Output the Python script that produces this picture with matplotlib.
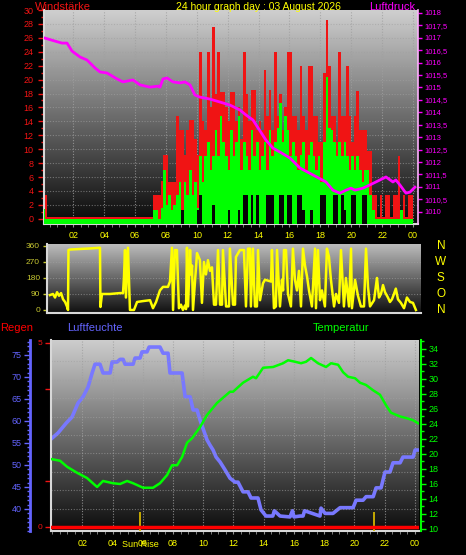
import numpy as np
import matplotlib
matplotlib.use('Agg')
import matplotlib.pyplot as plt
from matplotlib.ticker import FuncFormatter, MultipleLocator, FixedLocator
import matplotlib.transforms as mtransforms

plt.rcParams['font.family'] = ['Liberation Sans', 'DejaVu Sans']

W, H = 466, 555

# ------------------------------------------------------------------ data
tick_hours = [2, 4, 6, 8, 10, 12, 14, 16, 18, 20, 22, 24]
tick_labels = ['02', '04', '06', '08', '10', '12', '14', '16', '18', '20', '22', '00']

# wind, 10-minute bars (km/h), one row per hour
wind_gust = [
    5.3, 3.4, 0.3, 0.3, 0.3, 0.3,
    0.3, 0.3, 0.3, 0.3, 0.3, 0.3,
    0.3, 0.3, 0.3, 0.3, 0.3, 0.3,
    0.3, 0.3, 0.3, 0.3, 0.3, 0.3,
    0.3, 0.3, 0.3, 0.3, 0.3, 0.3,
    0.3, 0.3, 0.3, 0.3, 0.3, 0.3,
    0.3, 0.3, 0.3, 0.3, 0.3, 0.3,
    0.3, 3.4, 3.4, 3.4, 5.5, 9.2,
    9.2, 5.3, 5.3, 5.3, 14.7, 12.8,
    12.8, 9.2, 12.8, 14.2, 14.2, 11.4,
    9.2, 24.0, 14.0, 12.8, 24.0, 16.0,
    27.6, 18.0, 24.0, 18.2, 18.2, 16.0,
    14.0, 18.2, 18.2, 14.0, 16.0, 11.4,
    24.0, 18.0, 14.0, 18.5, 18.5, 12.8,
    14.0, 12.8, 21.4, 14.7, 18.5, 12.8,
    24.0, 14.7, 18.0, 12.8, 16.0, 24.0,
    24.0, 14.7, 14.7, 12.8, 22.0, 14.7,
    12.8, 22.0, 22.0, 14.7, 14.7, 11.0,
    11.0, 21.0, 28.6, 22.0, 14.7, 14.7,
    11.0, 24.0, 14.7, 14.7, 22.0, 14.7,
    11.0, 14.7, 18.4, 12.8, 12.8, 12.8,
    9.7, 9.7, 3.4, 3.4, 0.3, 3.4,
    0.3, 3.4, 3.4, 0.3, 3.4, 3.4,
    9.0, 0.3, 3.4, 0.3, 3.4, 3.4,
]
wind_avg = [
    1.4, 0, 0, 0, 0, 0,
    0, 0, 0, 0, 0, 0,
    0, 0, 0, 0, 0, 0,
    0, 0, 0, 0, 0, 0,
    0, 0, 0, 0, 0, 0,
    0, 0, 0, 0, 0, 0,
    0, 0, 0, 0, 0, 0,
    0, 1.3, 1.3, 0, 1.5, 7.0,
    2.0, 3.4, 1.3, 2.0, 3.4, 5.3,
    1.3, 5.3, 3.4, 7.0, 3.4, 5.3,
    1.5, 9.0, 5.3, 9.0, 11.0, 7.0,
    9.0, 12.8, 9.0, 14.7, 11.0, 9.0,
    7.0, 12.8, 9.0, 11.0, 14.7, 7.0,
    11.0, 9.0, 7.0, 12.8, 9.0, 11.0,
    7.0, 9.0, 11.0, 7.0, 12.8, 9.0,
    11.0, 13.0, 16.7, 11.0, 14.7, 12.8,
    9.0, 11.0, 9.0, 7.0, 9.2, 11.0,
    7.0, 9.2, 11.0, 9.0, 7.0, 9.0,
    5.3, 11.0, 20.4, 13.0, 12.8, 11.0,
    9.0, 11.0, 9.0, 11.0, 9.0, 7.0,
    9.0, 7.0, 9.0, 7.0, 5.3, 7.0,
    7.0, 3.4, 1.3, 0, 0, 0,
    0, 0, 0, 0, 0, 0,
    0, 1.3, 0, 0, 0, 0,
]
wind_min = [
    0, 0, 0, 0, 0, 0,
    0, 0, 0, 0, 0, 0,
    0, 0, 0, 0, 0, 0,
    0, 0, 0, 0, 0, 0,
    0, 0, 0, 0, 0, 0,
    0, 0, 0, 0, 0, 0,
    0, 0, 0, 0, 0, 0,
    0, 0, 0, 0, 0, 0,
    0, 0, 0, 0, 0, 0,
    1.3, 0, 0, 0, 0, 0,
    1.3, 3.4, 0, 0, 0, 0,
    2.0, 0, 0, 0, 0, 0,
    1.3, 0, 0, 0, 1.3, 0,
    3.4, 3.4, 0, 3.4, 0, 3.4,
    0, 0, 0, 3.4, 3.4, 3.4,
    0, 0, 3.4, 3.4, 0, 3.4,
    3.4, 0, 0, 3.4, 3.4, 1.3,
    0, 0, 1.3, 0, 0, 0,
    3.4, 3.4, 0, 0, 0, 3.4,
    3.4, 0, 3.4, 1.3, 0, 0,
    3.4, 3.4, 0, 0, 3.4, 3.4,
    0, 0, 0, 0, 0, 0,
    0, 0, 0, 0, 0, 0,
    0, 0, 0, 0, 0, 0,
]

# pressure (hPa)
pres_hours = [0.19, 0.84, 1.29, 1.62, 1.94, 2.46, 2.91, 3.43, 3.75, 4.2, 4.85, 5.24,
              5.88, 6.34, 6.98, 7.5, 7.63, 7.82, 8.08, 8.47, 8.92, 9.24, 9.57, 9.89,
              10.21, 10.86, 11.51, 12.15, 12.8, 13.19, 13.64, 14.48, 14.93, 15.39,
              16.03, 16.68, 17.52, 18.36, 18.81, 19.26, 19.65, 19.98, 20.23, 20.75,
              21.2, 21.85, 22.24, 22.69, 22.88, 23.14, 23.53, 23.79, 24.11]
pres_vals = [1016.98, 1016.86, 1016.78, 1016.78, 1016.46, 1016.22, 1016.10, 1015.78,
             1015.62, 1015.58, 1015.34, 1015.22, 1015.30, 1015.10, 1015.01, 1015.05,
             1015.01, 1015.34, 1015.38, 1015.22, 1015.18, 1015.22, 1015.10, 1014.69,
             1014.61, 1014.53, 1014.41, 1014.29, 1014.09, 1013.89, 1013.69, 1012.88,
             1012.56, 1012.40, 1012.16, 1011.76, 1011.48, 1011.20, 1010.87, 1010.75,
             1010.87, 1010.95, 1010.87, 1010.95, 1011.08, 1011.28, 1011.40, 1011.20,
             1011.28, 1011.08, 1010.75, 1010.79, 1010.99]

# wind direction (degrees)
dir_hours = [0.49, 0.69, 0.82, 0.95, 1.08, 1.21, 1.34, 1.47, 1.59, 1.66, 1.69, 1.79,
             2.44, 3.08, 3.73, 3.76, 3.86, 4.38, 5.02, 5.22, 5.28, 5.35, 5.41, 5.54,
             5.67, 5.93, 6.13, 6.51, 6.97, 7.16, 7.36, 7.61, 7.81, 8.13, 8.26, 8.39,
             8.46, 8.58, 8.71, 8.84, 8.97, 9.10, 9.23, 9.30, 9.36, 9.43, 9.56, 9.62,
             9.69, 9.75, 10.01, 10.20, 10.33, 10.46, 10.59, 10.72, 10.85, 10.98,
             11.11, 11.24, 11.37, 11.50, 11.63, 11.69, 11.89, 12.08, 12.14, 12.34,
             12.47, 12.53, 12.79, 13.05, 13.18, 13.31, 13.44, 13.50, 13.63, 13.76,
             13.89, 13.96, 14.09, 14.28, 14.41, 14.60, 14.80, 14.86, 14.99, 15.12,
             15.19, 15.38, 15.51, 15.58, 15.64, 15.77, 15.90, 16.09, 16.22, 16.35,
             16.48, 16.61, 16.74, 16.87, 17.00, 17.13, 17.26, 17.45, 17.65, 17.71,
             17.84, 17.97, 18.10, 18.29, 18.42, 18.55, 18.68, 18.88, 19.01, 19.20,
             19.33, 19.52, 19.65, 19.85, 19.98, 20.04, 20.24, 20.43, 20.62, 20.82,
             20.95, 21.08, 21.21, 21.47, 21.66, 21.79, 21.92, 22.05, 22.18, 22.37,
             22.50, 22.63, 22.76, 22.88, 23.02, 23.21, 23.41, 23.60, 23.80, 23.99,
             24.18]
dir_deg = [84, 90, 70, 100, 80, 95, 60, 45, 20, 0, 337, 340,
           343, 346, 350, 17, 90, 90, 95, 95, 180, 337, 70, 350,
           0, 0, 45, 50, 55, 10, 45, 110, 130, 130, 160, 350,
           0, 337, 337, 10, 30, 0, 25, 5, 350, 20, 337, 200,
           250, 0, 320, 280, 40, 270, 200, 280, 220, 240,
           30, 30, 337, 30, 30, 337, 20, 20, 345, 30,
           30, 298, 337, 337, 20, 345, 345, 20, 345, 20,
           20, 337, 55, 150, 170, 165, 160, 337, 10, 20,
           337, 20, 170, 110, 337, 337, 90, 20, 345, 170,
           110, 220, 20, 345, 250, 190, 110, 20, 345, 10,
           337, 55, 110, 20, 345, 300, 170, 20, 90, 40,
           337, 20, 180, 20, 345, 10, 170, 80, 20, 20,
           345, 130, 20, 55, 180, 70, 90, 140, 100, 70,
           45, 60, 90, 120, 60, 40, 10, 70, 45, 40,
           0]

# humidity (%)
hum_hours = [0.0, 0.40, 0.93, 1.32, 1.72, 2.05, 2.38, 2.65, 2.84, 3.17, 3.37, 3.84,
             3.97, 4.30, 4.50, 4.70, 4.83, 5.36, 5.49, 5.82, 5.95, 6.28, 6.42, 7.14,
             7.34, 7.67, 7.80, 8.60, 8.80, 9.13, 9.33, 9.59, 9.79, 10.25, 10.45,
             10.65, 10.85, 11.11, 11.44, 11.77, 12.10, 12.30, 12.63, 12.96, 13.16,
             13.62, 13.82, 14.15, 14.60, 14.70, 15.08, 15.74, 15.90, 16.00, 16.40,
             16.60, 16.70, 17.72, 17.79, 18.06, 18.58, 19.05, 19.91, 20.11, 20.57,
             20.77, 21.24, 21.43, 21.76, 22.02, 22.35, 22.55, 23.02, 23.21, 23.88,
             24.01, 24.21]
hum_vals = [56.1, 57.3, 59.5, 60.9, 64.1, 65.5, 67.7, 70.9, 72.9, 72.9, 70.9, 70.9,
            73.4, 73.4, 74.0, 74.0, 72.9, 72.9, 74.3, 74.3, 75.7, 75.7, 76.8, 76.8,
            75.4, 75.4, 70.9, 70.9, 65.5, 65.5, 62.5, 62.5, 60.2, 55.7, 54.5,
            53.4, 51.8, 50.7, 48.9, 47.0, 46.1, 46.1, 43.9, 43.9, 42.5,
            42.5, 39.8, 38.4, 38.4, 39.6, 38.4, 38.2, 39.6, 38.2, 38.4,
            38.4, 39.6, 38.4, 40.2, 39.0, 39.0, 40.3, 40.3, 42.0, 42.0,
            42.8, 42.8, 44.8, 44.8, 48.4, 48.4, 50.5, 50.5, 51.8, 51.8,
            53.4, 53.4]

# temperature (deg C)
temp_hours = [0.0, 0.53, 0.99, 1.65, 2.31, 2.98, 3.37, 4.03, 4.50, 4.96, 5.36, 6.02,
              6.68, 7.14, 7.61, 7.94, 8.27, 8.60, 8.93, 9.26, 9.79, 10.25, 10.91,
              11.77, 11.97, 12.63, 13.29, 13.49, 13.96, 14.62, 15.28, 15.61, 16.07,
              16.47, 16.80, 17.13, 17.59, 18.12, 18.45, 18.92, 19.25, 19.58, 20.04,
              20.37, 20.77, 21.23, 21.69, 22.09, 22.42, 23.02, 23.41, 23.88, 24.21]
temp_vals = [19.3, 19.1, 18.3, 17.5, 16.8, 15.6, 16.4, 16.1, 16.0, 16.4, 16.1, 15.5,
             15.5, 16.1, 17.2, 18.5, 18.5, 19.6, 21.5, 22.1, 23.6, 25.2, 26.8,
             28.3, 28.3, 29.5, 30.3, 30.1, 31.5, 31.6, 32.1, 32.5, 32.3,
             32.1, 32.3, 32.8, 32.1, 31.6, 32.1, 31.9, 30.9, 30.3, 30.1,
             29.5, 29.2, 28.5, 27.9, 26.5, 25.5, 25.0, 24.8, 24.5, 24.1]

# rain (mm)
rain_hours = [0, 6, 12, 18, 24.27]
rain_vals = [0, 0, 0, 0, 0]

# sunrise / sunset
sun_hours = [5.82, 21.3]

compass_labels = ['N', 'W', 'S', 'O', 'N']
compass_deg = [360, 270, 180, 90, 0]

# ------------------------------------------------------------------ style
RED = '#f01414'
GREEN = '#00ff00'
MAG = '#ff00ff'
YEL = '#ffff00'
BLUE = '#7878ff'
BLUE_T = '#6464ff'
OLIVE = '#c8c832'
GRID = '#a0a0a0'
SPINE = '#d8d8d8'


def frac(x0, y0, x1, y1):
    return [x0 / W, 1 - y1 / H, (x1 - x0) / W, (y1 - y0) / H]


def background(ax, xlim, ylim, top, bottom):
    grad = np.linspace(0, 1, 256).reshape(-1, 1)
    cmap = matplotlib.colors.LinearSegmentedColormap.from_list('bg', [bottom, top])
    ax.imshow(grad, aspect='auto', cmap=cmap, origin='lower',
              extent=[xlim[0], xlim[1], ylim[0], ylim[1]], zorder=0,
              interpolation='bilinear')
    ax.set_xlim(xlim)
    ax.set_ylim(ylim)


def vgrid(ax, hrs):
    for h in hrs:
        ax.axvline(h, color=GRID, lw=0.8, ls=(0, (1, 1.5)), zorder=1, alpha=0.8)


def hgrid(ax, vals):
    for v in vals:
        ax.axhline(v, color=GRID, lw=0.8, ls=(0, (1, 1.5)), zorder=1, alpha=0.6)


fig = plt.figure(figsize=(W / 100, H / 100), dpi=100, facecolor='black')

# ================================================================ top panel
ax1 = fig.add_axes(frac(44, 10, 418, 224))
x1lim = (0.13, 24.31)
y1lim = (-0.75, 30)
background(ax1, x1lim, y1lim, '#cfcfcf', '#080808')
vgrid(ax1, tick_hours)
hgrid(ax1, list(range(2, 30, 2)))

bar_hours = np.arange(len(wind_gust)) / 6.0
base = y1lim[0]
gust = np.array(wind_gust)
avg = np.array(wind_avg)
wmin = np.array(wind_min)
ax1.bar(bar_hours, gust - base, bottom=base, width=1 / 6, align='edge',
        color=RED, linewidth=0, zorder=2)
ax1.bar(bar_hours, avg - base, bottom=base, width=1 / 6, align='edge',
        color=GREEN, linewidth=0, zorder=3)
mask = wmin > 0
ax1.bar(bar_hours[mask], wmin[mask] - base, bottom=base, width=1 / 6, align='edge',
        color='#050505', linewidth=0, zorder=4)

ax1.set_yticks(list(range(0, 31, 2)))
ax1.yaxis.set_minor_locator(MultipleLocator(1))
ax1.tick_params(axis='y', which='both', colors=RED, labelsize=6.5, direction='out')
ax1.tick_params(axis='y', which='major', length=4, width=1)
ax1.tick_params(axis='y', which='minor', length=2.5, width=1)
ax1.set_xticks(tick_hours)
ax1.xaxis.set_minor_locator(MultipleLocator(0.5))
ax1.tick_params(axis='x', which='both', colors='#909090', labelbottom=False,
                length=2.5, direction='out')
for s in ['top']:
    ax1.spines[s].set_visible(False)
ax1.spines['left'].set_color(SPINE)
ax1.spines['left'].set_linewidth(1.5)
ax1.spines['bottom'].set_color(SPINE)
ax1.spines['bottom'].set_linewidth(1.5)
ax1.spines['right'].set_visible(False)

ax1p = ax1.twinx()
ax1p.plot(pres_hours, pres_vals, color=MAG, lw=2, zorder=5)
ax1p.set_ylim(1009.51, 1018.11)
ax1p.set_xlim(x1lim)
ax1p.yaxis.set_major_locator(MultipleLocator(0.5))
ax1p.yaxis.set_major_formatter(FuncFormatter(
    lambda v, p: (f'{v:.1f}'.replace('.', ',') if abs(v % 1) > 1e-6 else f'{v:.0f}')))
ax1p.tick_params(axis='y', colors=MAG, labelsize=5.5, length=3, width=1, pad=2)
for s in ['top', 'left', 'bottom']:
    ax1p.spines[s].set_visible(False)
ax1p.spines['right'].set_color('#ffb0ff')
ax1p.spines['right'].set_linestyle((0, (1, 1)))
ax1p.spines['right'].set_linewidth(1.2)

# titles
fig.text(35 / W, 1 - 7 / H, 'Windstärke', color=RED, fontsize=8, ha='left', va='center')
fig.text(258 / W, 1 - 7 / H, '24 hour graph day : 03 August 2026', color=YEL,
         fontsize=7.5, ha='center', va='center')
fig.text(415 / W, 1 - 7 / H, 'Luftdruck', color=MAG, fontsize=8, ha='right', va='center')

# ================================================================ middle panel
ax2 = fig.add_axes(frac(47, 244, 421, 313))
x2lim = (0.3, 24.51)
y2lim = (-17, 371)
background(ax2, x2lim, y2lim, '#bcbcbc', '#101010')
hgrid(ax2, [90, 180, 270])
ax2.plot(dir_hours, dir_deg, color=YEL, lw=1.8, zorder=3)
ax2.set_yticks([0, 90, 180, 270, 360])
ax2.tick_params(axis='y', colors=OLIVE, labelsize=6, length=3, width=1, pad=2)
ax2.set_xticks(tick_hours)
ax2.set_xticklabels(tick_labels)
ax2.tick_params(axis='x', top=True, labeltop=True, bottom=False, labelbottom=False,
                colors=YEL, labelsize=6.5, length=0, pad=3)
for s in ['top', 'right']:
    ax2.spines[s].set_visible(False)
ax2.spines['left'].set_color(SPINE)
ax2.spines['left'].set_linewidth(1.5)
ax2.spines['bottom'].set_color(SPINE)
ax2.spines['bottom'].set_linewidth(1.5)
trans2 = mtransforms.blended_transform_factory(ax2.transAxes, ax2.transData)
for lab, d in zip(compass_labels, compass_deg):
    ax2.text(1.053, d, lab, color=YEL, fontsize=8.5, ha='center', va='center',
             transform=trans2, clip_on=False)

# ================================================================ bottom panel
ax3 = fig.add_axes(frac(51, 340, 419, 531))
x3lim = (-0.07, 24.27)
y3lim = (35.0, 78.4)
background(ax3, x3lim, y3lim, '#cdcdcd', '#0c0c0c')
vgrid(ax3, tick_hours)

ax3r = ax3.twinx()
ax3r.set_ylim(-0.11, 5.08)
ax3r.set_xlim(x3lim)
hgrid(ax3r, [0.5, 1.0, 1.5, 2.0, 2.5, 3.0, 3.5, 4.0, 4.5])

ax3t = ax3.twinx()
ax3t.set_ylim(9.73, 35.2)
ax3t.set_xlim(x3lim)
ax3t.plot(temp_hours, temp_vals, color=GREEN, lw=1.8, zorder=3)

ax3.plot(hum_hours, hum_vals, color=BLUE, lw=2.6, zorder=4)
ax3r.plot(rain_hours, rain_vals, color='#ff0000', lw=2.5, zorder=6)

# humidity axis
ax3.spines['left'].set_position(('outward', 21 * 72 / 100))
ax3.spines['left'].set_color(BLUE_T)
ax3.spines['left'].set_linewidth(2)
ax3.set_yticks([40, 45, 50, 55, 60, 65, 70, 75])
ax3.yaxis.set_minor_locator(MultipleLocator(1))
ax3.tick_params(axis='y', which='both', colors=BLUE_T, labelsize=6.5, direction='out')
ax3.tick_params(axis='y', which='major', length=4, width=1, pad=2)
ax3.tick_params(axis='y', which='minor', length=2.5, width=1)
ax3.set_xticks(tick_hours)
ax3.set_xticklabels(tick_labels)
ax3.xaxis.set_minor_locator(MultipleLocator(0.5))
ax3.tick_params(axis='x', which='both', colors='#909090', labelcolor=YEL,
                labelsize=6.5, length=2.5, pad=3)
ax3.spines['top'].set_visible(False)
ax3.spines['right'].set_visible(False)
ax3.spines['bottom'].set_color(SPINE)
ax3.spines['bottom'].set_linewidth(1.5)

# rain axis (left, inner)
ax3r.yaxis.set_ticks_position('left')
ax3r.set_yticks([0, 5])
ax3r.yaxis.set_minor_locator(FixedLocator([1.25, 3.75]))
ax3r.tick_params(axis='y', which='both', colors=RED, labelsize=6, length=4, width=1, pad=2)
for s in ['top', 'right', 'bottom']:
    ax3r.spines[s].set_visible(False)
ax3r.spines['left'].set_color(SPINE)
ax3r.spines['left'].set_linewidth(1.5)

# temperature axis (right)
ax3t.set_yticks(list(range(10, 35, 2)))
ax3t.yaxis.set_minor_locator(MultipleLocator(1))
ax3t.tick_params(axis='y', which='both', colors=GREEN, labelsize=6.5, direction='out')
ax3t.tick_params(axis='y', which='major', length=3.5, width=1, pad=2)
ax3t.tick_params(axis='y', which='minor', length=2, width=1)
for s in ['top', 'left', 'bottom']:
    ax3t.spines[s].set_visible(False)
ax3t.spines['right'].set_color(GREEN)
ax3t.spines['right'].set_linewidth(1.5)
ax3t.spines['right'].set_position(('outward', 1.5))

# sunrise / sunset markers
xt3 = ax3.get_xaxis_transform()
ax3.vlines(sun_hours, 0, 0.1, transform=xt3, color='#d2b400', lw=1.3, zorder=5)
ax3.text(sun_hours[0], -0.045, 'Sun Rise', color=YEL, fontsize=6.5, ha='center',
         va='top', transform=xt3, clip_on=False)

# header of bottom panel
fig.text(0 / W, 1 - 328 / H, 'Regen', color='#ff0000', fontsize=8, ha='left', va='center')
fig.text(67 / W, 1 - 328 / H, 'Luftfeuchte', color=BLUE_T, fontsize=8, ha='left', va='center')
fig.text(313 / W, 1 - 328 / H, 'Temperatur', color=GREEN, fontsize=8, ha='left', va='center')

fig.savefig('out.png', dpi=100, facecolor='black')
